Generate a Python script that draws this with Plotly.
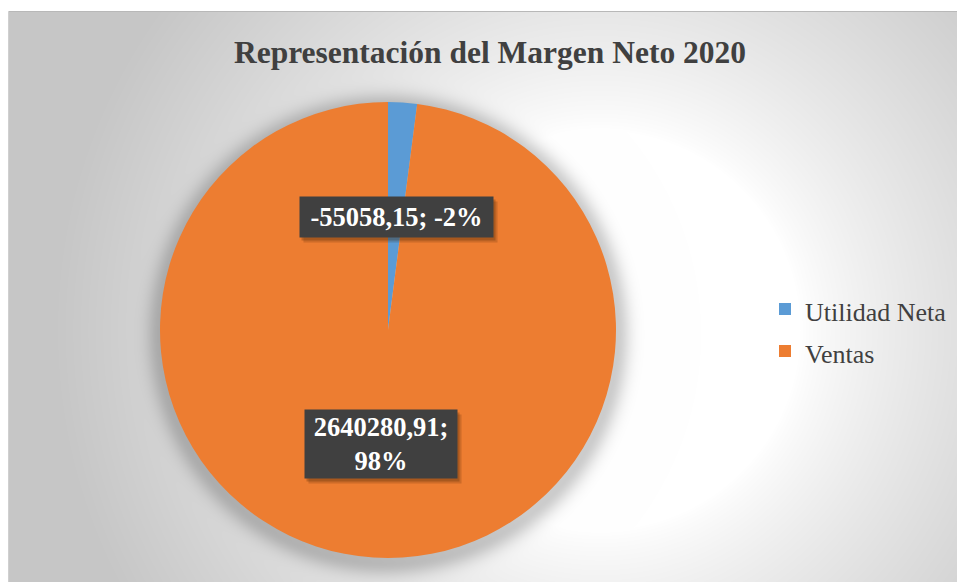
import base64
import struct
import zlib

import numpy as np
import plotly.graph_objects as go

# ---------------- data ----------------
categories = ["Utilidad Neta", "Ventas"]
values = [-55058.15, 2640280.91]
colors = ["#5B9BD5", "#ED7D31"]
title_text = "Representación del Margen Neto 2020"

W, H = 957, 582
SERIF = "Liberation Serif, Times New Roman, Times, serif"

# ---------------- background (radial gradient + soft pie shadow) ----------------
def png_uri(img):
    h, w, _ = img.shape
    raw = b"".join(b"\x00" + img[i].tobytes() for i in range(h))

    def chunk(t, d):
        c = struct.pack(">I", len(d)) + t + d
        return c + struct.pack(">I", zlib.crc32(t + d) & 0xFFFFFFFF)

    png = (b"\x89PNG\r\n\x1a\n"
           + chunk(b"IHDR", struct.pack(">IIBBBBB", w, h, 8, 2, 0, 0, 0))
           + chunk(b"IDAT", zlib.compress(raw, 9))
           + chunk(b"IEND", b""))
    return "data:image/png;base64," + base64.b64encode(png).decode()


yy, xx = np.mgrid[0:H, 0:W].astype(float)
d = np.hypot(xx - 600, yy - 330)
t = np.clip((d - 200) / 350, 0, 1)
c = 255 - 57 * t ** 0.8
# pie shadow
pcx, pcy, pr = 388, 334, 228
s = np.maximum(np.hypot(xx - pcx, yy - pcy) - pr, 0)
sh = 0.20 * np.exp(-(s ** 2) / (2 * 10 ** 2))
c = c * (1 - sh)
c[(xx < 9) | (yy < 12)] = 255
img = np.repeat(np.clip(c, 0, 255).astype(np.uint8)[:, :, None], 3, axis=2)
bg_uri = png_uri(img)

# ---------------- pie ----------------
abs_vals = [abs(v) for v in values]
total = sum(abs_vals)


def fmt(v):
    return f"{v:.2f}".replace(".", ",")


pcts = [round(v / total * 100) for v in values]
label_texts = [
    f"<b>{fmt(values[0])}; {pcts[0]}%</b>",
    f"<b>{fmt(values[1])};</b><br><b>{pcts[1]}%</b>",
]
legend_labels = [f"<span style='font-size:26px'>{c_}</span>" for c_ in categories]

cx, cy, r = 388, 330, 228
fig = go.Figure(
    go.Pie(
        labels=legend_labels,
        values=abs_vals,
        sort=False,
        direction="clockwise",
        rotation=0,
        marker=dict(colors=colors, line=dict(width=0)),
        textinfo="none",
        hoverinfo="skip",
        domain=dict(x=[(cx - r) / W, (cx + r) / W],
                    y=[(H - cy - r) / H, (H - cy + r) / H]),
        showlegend=True,
    )
)

# ---------------- data labels (boxes) ----------------
boxes = [
    dict(cx=396.5, cy=217, w=193, h=40),
    dict(cx=381, cy=444, w=152, h=68),
]
annotations = []
for b, txt in zip(boxes, label_texts):
    for off, a in [((4, 5), 0.18), ((2, 3), 0.25)]:
        annotations.append(dict(
            x=(b["cx"] + off[0]) / W, y=1 - (b["cy"] + off[1]) / H,
            xref="paper", yref="paper", xanchor="center", yanchor="middle",
            text=" ", showarrow=False, width=b["w"], height=b["h"],
            bgcolor=f"rgba(60,30,0,{a})", borderpad=0,
        ))
    annotations.append(dict(
        x=b["cx"] / W, y=1 - b["cy"] / H,
        xref="paper", yref="paper", xanchor="center", yanchor="middle",
        text=txt, showarrow=False, width=b["w"], height=b["h"],
        align="center", valign="middle",
        bgcolor="#404040", borderpad=0,
        font=dict(family=SERIF, size=26.5, color="white"),
    ))

fig.update_layout(
    width=W, height=H,
    margin=dict(l=0, r=0, t=0, b=0),
    paper_bgcolor="white",
    title=dict(text=f"<b>{title_text}</b>", x=490 / W, xanchor="center",
               y=1 - 52 / H, yanchor="middle",
               font=dict(family=SERIF, size=31.5, color="#404040")),
    legend=dict(x=765 / W, xanchor="left", y=1 - 330 / H, yanchor="middle",
                bgcolor="rgba(0,0,0,0)",
                font=dict(family=SERIF, size=30, color="#404040")),
    images=[dict(source=bg_uri, xref="paper", yref="paper", x=0, y=1,
                 sizex=1, sizey=1, xanchor="left", yanchor="top",
                 sizing="stretch", layer="below")],
    shapes=[
        dict(type="line", xref="paper", yref="paper",
             x0=8.5 / W, x1=1, y0=1 - 11.5 / H, y1=1 - 11.5 / H,
             line=dict(color="#b8b8b8", width=1)),
        dict(type="line", xref="paper", yref="paper",
             x0=8.5 / W, x1=8.5 / W, y0=0, y1=1 - 11.5 / H,
             line=dict(color="#d0d0d0", width=1)),
    ],
    annotations=annotations,
)

fig.write_html(
    "out.html",
    config={"displayModeBar": False},
    post_script="document.body.style.margin='0';document.body.style.padding='0';",
)
